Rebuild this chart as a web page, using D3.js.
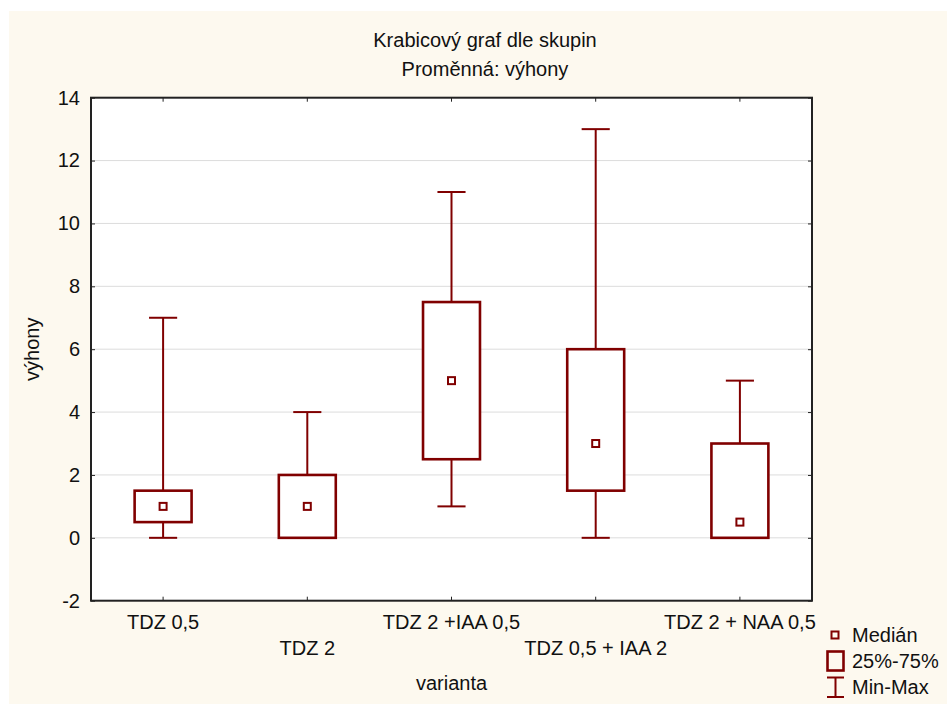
<!DOCTYPE html>
<html>
<head>
<meta charset="utf-8">
<script src="https://cdn.jsdelivr.net/npm/d3@7"></script>
<style>
  body { margin: 0; background: #fff; }
  svg text { font-family: "Liberation Sans", Arial, sans-serif; fill: #111; }
</style>
</head>
<body>
<div id="chart"></div>
<script>
const categories = ['TDZ 0,5', 'TDZ 2', 'TDZ 2 +IAA 0,5', 'TDZ 0,5 + IAA 2', 'TDZ 2 + NAA 0,5'];
const mins    = [0,   0, 1,   0,   0];
const q1s     = [0.5, 0, 2.5, 1.5, 0];
const medians = [1,   1, 5,   3,   0.5];
const q3s     = [1.5, 2, 7.5, 6,   3];
const maxs    = [7,   4, 11,  13,  5];
const yTicks = [-2, 0, 2, 4, 6, 8, 10, 12, 14];

const width = 947;
const height = 704;
const dark = '#800000';

const svg = d3.select('#chart')
              .append('svg')
              .attr('width', width)
              .attr('height', height);

// cream backdrop, white strip on top/left
svg.append('rect')
   .attr('x', 9).attr('y', 11)
   .attr('width', width - 9).attr('height', height - 11)
   .attr('fill', '#fdf9ef');

const plotLeft = 91, plotRight = 812, plotTop = 97.7, plotBottom = 600.7;

const x = d3.scaleBand()
            .domain(categories)
            .range([plotLeft, plotRight])
            .padding(0);

const y = d3.scaleLinear()
            .domain([-2, 14])
            .range([plotBottom, plotTop]);

svg.append('rect')
   .attr('x', plotLeft).attr('y', plotTop)
   .attr('width', plotRight - plotLeft).attr('height', plotBottom - plotTop)
   .attr('fill', '#fff');

// gridlines
svg.append('g')
   .selectAll('line')
   .data(yTicks.filter((d) => d > -2 && d < 14))
   .enter()
   .append('line')
   .attr('x1', plotLeft).attr('x2', plotRight)
   .attr('y1', (d) => y(d)).attr('y2', (d) => y(d))
   .attr('stroke', '#dcdcdc')
   .attr('stroke-width', 1);

// axes
const styleAxis = (g, labels) => {
  g.select('.domain').remove();
  g.selectAll('.tick line').attr('stroke', '#222');
  if (!labels) g.selectAll('.tick text').remove();
  g.selectAll('.tick text').style('font-size', '20px').attr('fill', '#111');
};

svg.append('g')
   .attr('transform', 'translate(' + plotLeft + ',0)')
   .call(d3.axisLeft(y).tickValues(yTicks).tickFormat((d) => String(d)).tickSize(-4).tickPadding(11))
   .call((g) => styleAxis(g, true));

svg.append('g')
   .attr('transform', 'translate(' + plotRight + ',0)')
   .call(d3.axisRight(y).tickValues(yTicks).tickSize(-4))
   .call((g) => styleAxis(g, false));

svg.append('g')
   .attr('transform', 'translate(0,' + plotTop + ')')
   .call(d3.axisTop(x).tickSize(-4))
   .call((g) => styleAxis(g, false));

svg.append('g')
   .attr('transform', 'translate(0,' + plotBottom + ')')
   .call(d3.axisBottom(x).tickSize(-4))
   .call((g) => styleAxis(g, false));

// frame
svg.append('rect')
   .attr('x', plotLeft).attr('y', plotTop)
   .attr('width', plotRight - plotLeft).attr('height', plotBottom - plotTop)
   .attr('fill', 'none')
   .attr('stroke', '#222')
   .attr('stroke-width', 2);

// staggered category labels
svg.append('g')
   .selectAll('text')
   .data(categories)
   .enter()
   .append('text')
   .attr('x', (d) => x(d) + x.bandwidth() / 2)
   .attr('y', (d, i) => i % 2 === 0 ? 629 : 655)
   .attr('text-anchor', 'middle')
   .style('font-size', '20px')
   .text((d) => d);

// boxes
const boxW = x.bandwidth() * 0.395;
const capW = x.bandwidth() * 0.195;

const box = svg.append('g')
               .selectAll('g')
               .data(categories)
               .enter()
               .append('g')
               .attr('transform', (d) => 'translate(' + (x(d) + x.bandwidth() / 2) + ',0)');

box.append('line')
   .attr('y1', (d, i) => y(q3s[i])).attr('y2', (d, i) => y(maxs[i]))
   .attr('stroke', dark).attr('stroke-width', 2);

box.append('line')
   .attr('y1', (d, i) => y(q1s[i])).attr('y2', (d, i) => y(mins[i]))
   .attr('stroke', dark).attr('stroke-width', 2);

box.append('line')
   .attr('x1', -capW / 2).attr('x2', capW / 2)
   .attr('y1', (d, i) => y(maxs[i])).attr('y2', (d, i) => y(maxs[i]))
   .attr('stroke', dark).attr('stroke-width', 2);

box.append('line')
   .attr('x1', -capW / 2).attr('x2', capW / 2)
   .attr('y1', (d, i) => y(mins[i])).attr('y2', (d, i) => y(mins[i]))
   .attr('stroke', dark).attr('stroke-width', 2);

box.append('rect')
   .attr('x', -boxW / 2)
   .attr('width', boxW)
   .attr('y', (d, i) => y(q3s[i]))
   .attr('height', (d, i) => y(q1s[i]) - y(q3s[i]))
   .attr('fill', '#fff')
   .attr('stroke', dark)
   .attr('stroke-width', 2.6);

box.append('rect')
   .attr('x', -3.5)
   .attr('y', (d, i) => y(medians[i]) - 3.5)
   .attr('width', 7).attr('height', 7)
   .attr('fill', '#fff')
   .attr('stroke', dark)
   .attr('stroke-width', 2);

// titles
svg.append('text')
   .attr('x', 485).attr('y', 47)
   .attr('text-anchor', 'middle')
   .style('font-size', '20px')
   .text('Krabicový graf dle skupin');

svg.append('text')
   .attr('x', 485).attr('y', 76)
   .attr('text-anchor', 'middle')
   .style('font-size', '20px')
   .text('Proměnná: výhony');

svg.append('text')
   .attr('transform', 'translate(39,' + ((plotTop + plotBottom) / 2) + ') rotate(-90)')
   .attr('text-anchor', 'middle')
   .style('font-size', '20px')
   .text('výhony');

svg.append('text')
   .attr('x', (plotLeft + plotRight) / 2).attr('y', 690)
   .attr('text-anchor', 'middle')
   .style('font-size', '20px')
   .text('varianta');

// legend
const legend = svg.append('g');

legend.append('rect')
      .attr('x', 831.5).attr('y', 631.5).attr('width', 7).attr('height', 7)
      .attr('fill', 'none').attr('stroke', dark).attr('stroke-width', 2);

legend.append('rect')
      .attr('x', 827.5).attr('y', 651.5).attr('width', 16).attr('height', 19)
      .attr('fill', 'none').attr('stroke', dark).attr('stroke-width', 2.6);

legend.append('path')
      .attr('d', 'M827,677.5H844M835.5,677.5V697M827,697H844')
      .attr('fill', 'none').attr('stroke', dark).attr('stroke-width', 2);

legend.selectAll('text.lg')
      .data(['Medián', '25%-75%', 'Min-Max'])
      .enter()
      .append('text')
      .attr('class', 'lg')
      .attr('x', 852)
      .attr('y', (d, i) => [642, 668, 694][i])
      .style('font-size', '20px')
      .text((d) => d);
</script>
</body>
</html>
